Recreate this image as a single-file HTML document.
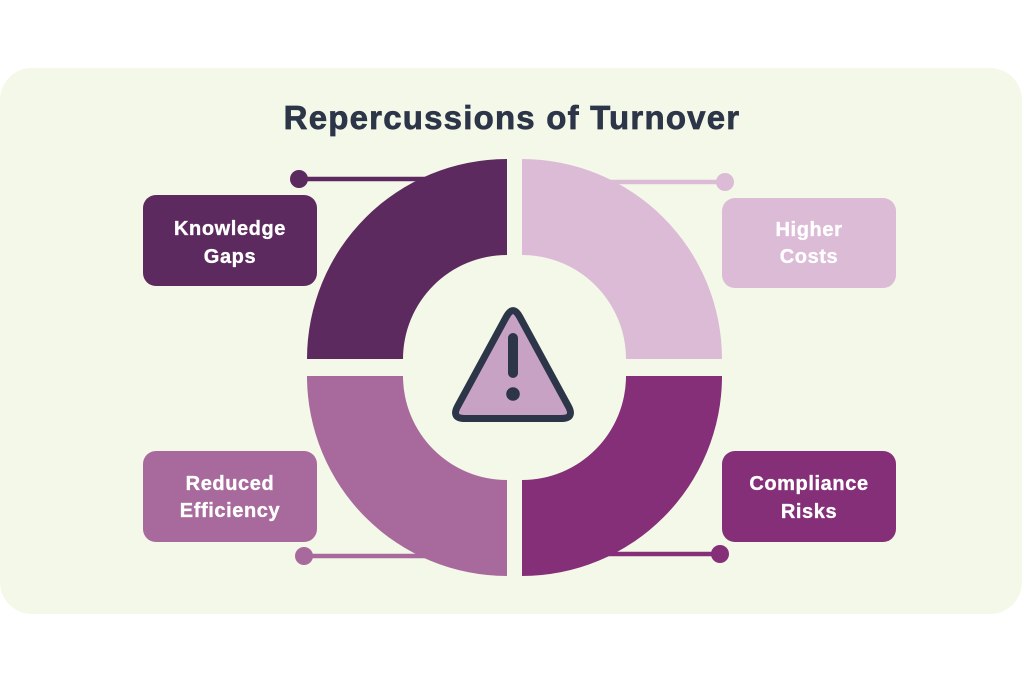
<!DOCTYPE html>
<html>
<head>
<meta charset="utf-8">
<style>
  html, body { margin: 0; padding: 0; background: #ffffff; }
  body { width: 1024px; height: 683px; overflow: hidden; }
  svg { display: block; }
  .lbl { font-family: "Liberation Sans", sans-serif; font-weight: bold; font-size: 20px; fill: #ffffff; stroke: #ffffff; stroke-width: 0.35px; letter-spacing: 0.6px; }
  .title { font-family: "Liberation Sans", sans-serif; font-weight: bold; font-size: 33px; fill: #2d3548; stroke: #2d3548; stroke-width: 0.7px; letter-spacing: 1.2px; }
</style>
</head>
<body>
<svg width="1024" height="683" viewBox="0 0 1024 683" xmlns="http://www.w3.org/2000/svg">
  <!-- panel -->
  <rect x="0" y="68" width="1022" height="546" rx="32" ry="32" fill="#f3f8e8"/>

  <!-- title -->
  <text class="title" x="512" y="129" text-anchor="middle">Repercussions of Turnover</text>

  <!-- connectors (behind ring) -->
  <line x1="299" y1="179" x2="440" y2="179" stroke="#5c2a5e" stroke-width="4.5"/>
  <circle cx="299" cy="179" r="9" fill="#5c2a5e"/>

  <line x1="590" y1="182" x2="725" y2="182" stroke="#dcbbd6" stroke-width="4.5"/>
  <circle cx="725" cy="182" r="9" fill="#dcbbd6"/>

  <line x1="304" y1="556" x2="440" y2="556" stroke="#a86a9c" stroke-width="4.5"/>
  <circle cx="304" cy="556" r="9" fill="#a86a9c"/>

  <line x1="590" y1="554" x2="720" y2="554" stroke="#852f79" stroke-width="4.5"/>
  <circle cx="720" cy="554" r="9" fill="#852f79"/>

  <!-- ring quadrants -->
  <path d="M307 359 A200 200 0 0 1 507 159 L507 255 A104 104 0 0 0 403 359 Z" fill="#5c2a5e"/>
  <path d="M522 159 A200 200 0 0 1 722 359 L626 359 A104 104 0 0 0 522 255 Z" fill="#dcbbd6"/>
  <path d="M722 376 A200 200 0 0 1 522 576 L522 480 A104 104 0 0 0 626 376 Z" fill="#852f79"/>
  <path d="M507 576 A200 200 0 0 1 307 376 L403 376 A104 104 0 0 0 507 480 Z" fill="#a86a9c"/>

  <!-- warning triangle -->
  <path d="M506.31 316.8 Q513 304.5 519.69 316.8 L568.31 406.2 Q575 418.5 561 418.5 L465 418.5 Q451 418.5 457.69 406.2 Z"
        fill="#c8a2c5" stroke="#2d3548" stroke-width="7" stroke-linejoin="round"/>
  <line x1="513" y1="338" x2="513" y2="373" stroke="#2d3548" stroke-width="10" stroke-linecap="round"/>
  <circle cx="513" cy="394" r="6.8" fill="#2d3548"/>

  <!-- boxes -->
  <rect x="143" y="195" width="174" height="91" rx="13" ry="13" fill="#5c2a5e"/>
  <text class="lbl" x="230" y="235" text-anchor="middle">Knowledge</text>
  <text class="lbl" x="230" y="263" text-anchor="middle">Gaps</text>

  <rect x="722" y="198" width="174" height="90" rx="13" ry="13" fill="#dcbbd6"/>
  <text class="lbl" x="809" y="236" text-anchor="middle">Higher</text>
  <text class="lbl" x="809" y="263" text-anchor="middle">Costs</text>

  <rect x="143" y="451" width="174" height="91" rx="13" ry="13" fill="#a86a9c"/>
  <text class="lbl" x="230" y="490" text-anchor="middle">Reduced</text>
  <text class="lbl" x="230" y="517" text-anchor="middle">Efficiency</text>

  <rect x="722" y="451" width="174" height="91" rx="13" ry="13" fill="#852f79"/>
  <text class="lbl" x="809" y="490" text-anchor="middle">Compliance</text>
  <text class="lbl" x="809" y="518" text-anchor="middle">Risks</text>
</svg>
</body>
</html>
